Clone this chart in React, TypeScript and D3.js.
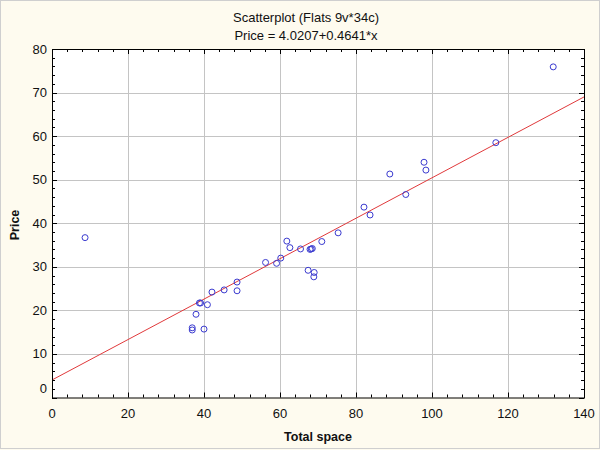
import React from "react";
import * as d3 from "d3";

const totalSpace = [8.7, 131.9, 116.8, 97.9, 98.4, 88.9, 93.1, 82.1, 83.7, 75.3, 71.0, 61.8, 62.6, 65.4, 67.9, 68.5, 56.2, 59.1, 60.2, 67.4, 69.0, 68.9, 48.7, 48.7, 45.3, 42.1, 39.1, 38.8, 40.9, 37.9, 36.9, 36.9, 40.0, 68.2];
const price = [36.7, 75.9, 58.5, 54.0, 52.2, 51.3, 46.6, 43.7, 41.9, 37.8, 35.8, 35.9, 34.4, 34.1, 34.0, 34.2, 31.0, 30.8, 32.0, 29.2, 28.7, 27.7, 26.5, 24.5, 24.7, 24.2, 21.7, 21.7, 21.3, 19.1, 16.0, 15.5, 15.7, 34.1];
const xTicks = [0, 20, 40, 60, 80, 100, 120, 140];
const yTicks = [0, 10, 20, 30, 40, 50, 60, 70, 80];
const intercept = 4.0207;
const slope = 0.4641;
const title1 = "Scatterplot (Flats 9v*34c)";
const title2 = "Price = 4.0207+0.4641*x";

export default function App() {
  const W = 600, H = 450;
  const L = 52, R = 584, T = 49, B = 397.5;
  const x = d3.scaleLinear().domain([0, 140]).range([L, R]);
  const y = d3.scaleLinear().domain([0, 80]).range([B, T]);
  const xMinor = d3.range(0, 140.001, 4);
  const yMinor = d3.range(0, 80.001, 2);
  const line = d3.line<number>().x((d) => x(d)).y((d) => y(intercept + slope * d));
  const font = "Arial, 'Liberation Sans', sans-serif";
  return (
    <svg width={W} height={H} style={{ position: "absolute", left: 0, top: 0 }} fontFamily={font}>
      <rect x={0} y={0} width={W} height={H} fill="#fefbef" />
      <rect x={0.5} y={0.5} width={W - 1} height={H - 2} fill="none" stroke="#cfcfcf" />
      <rect x={L} y={T} width={R - L} height={B - T} fill="#ffffff" />
      <g stroke="#c4c4c4" strokeWidth={1}>
        {xTicks.slice(1, -1).map((t) => (
          <line key={"gx" + t} x1={Math.round(x(t)) + 0.5} x2={Math.round(x(t)) + 0.5} y1={T} y2={B} />
        ))}
        {yTicks.slice(1, -1).map((t) => (
          <line key={"gy" + t} x1={L} x2={R} y1={Math.round(y(t)) + 0.5} y2={Math.round(y(t)) + 0.5} />
        ))}
      </g>
      <g stroke="#000" strokeWidth={1}>
        {xMinor.map((t) => {
          const px = Math.round(x(t)) + 0.5;
          const len = t % 20 === 0 ? 5 : 3;
          return (
            <g key={"mx" + t}>
              <line x1={px} x2={px} y1={B} y2={B - len} />
              <line x1={px} x2={px} y1={T} y2={T + len} />
            </g>
          );
        })}
        {yMinor.map((t) => {
          const py = Math.round(y(t)) + 0.5;
          const len = t % 10 === 0 ? 5 : 3;
          return (
            <g key={"my" + t}>
              <line x1={L} x2={L + len} y1={py} y2={py} />
              <line x1={R} x2={R - len} y1={py} y2={py} />
            </g>
          );
        })}
      </g>
      <path d={line([0, 140]) || ""} fill="none" stroke="#e0393b" strokeWidth={1} />
      <g fill="none" stroke="#3a3acf" strokeWidth={1}>
        {totalSpace.map((v, i) => (
          <circle key={i} cx={x(v)} cy={y(price[i])} r={3} />
        ))}
      </g>
      <rect x={L + 0.5} y={T + 0.5} width={R - L} height={B - T} fill="none" stroke="#000" strokeWidth={1} />
      <g fontSize={13} fill="#111">
        {yTicks.map((t) => (
          <text key={"ly" + t} x={L - 5} y={y(t) + (t === 0 ? -5 : 4.5)} textAnchor="end">{t}</text>
        ))}
        {xTicks.map((t) => (
          <text key={"lx" + t} x={x(t)} y={B + 20} textAnchor="middle">{t}</text>
        ))}
      </g>
      <text x={318} y={441} textAnchor="middle" fontSize={12.5} fontWeight={600} fill="#111">Total space</text>
      <text transform={`translate(19,225) rotate(-90)`} textAnchor="middle" fontSize={12.5} fontWeight={600} fill="#111">Price</text>
      <text x={306} y={22} textAnchor="middle" fontSize={13} fill="#111">{title1}</text>
      <text x={306} y={40} textAnchor="middle" fontSize={13} fill="#111">{title2}</text>
    </svg>
  );
}
